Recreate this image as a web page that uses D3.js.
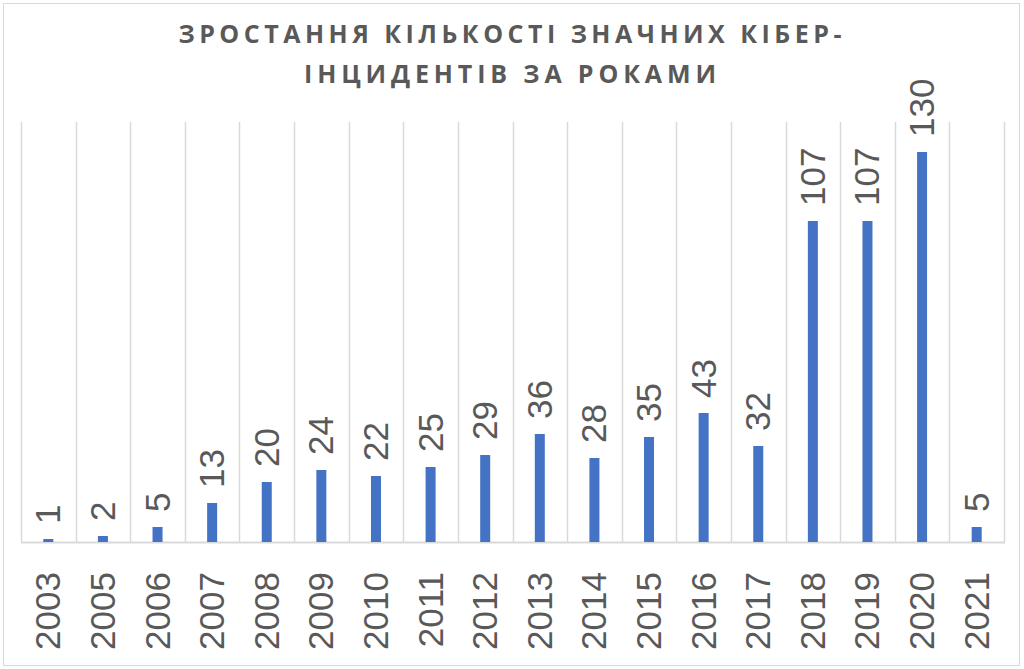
<!DOCTYPE html>
<html>
<head>
<meta charset="utf-8">
<script src="https://cdn.jsdelivr.net/npm/d3@7"></script>
<style>
  body { margin: 0; background: #fff; }
  svg { display: block; }
</style>
</head>
<body>
<div class="visual"></div>
<script>
const years = ["2003", "2005", "2006", "2007", "2008", "2009", "2010", "2011", "2012",
  "2013", "2014", "2015", "2016", "2017", "2018", "2019", "2020", "2021"];
const incidents = [1, 2, 5, 13, 20, 24, 22, 25, 29, 36, 28, 35, 43, 32, 107, 107, 130, 5];
const titleLines = ["ЗРОСТАННЯ КІЛЬКОСТІ ЗНАЧНИХ КІБЕР-", "ІНЦИДЕНТІВ ЗА РОКАМИ"];

const width = 1024;
const height = 669;
const plot = { left: 21, right: 1004, top: 122, bottom: 542 };

const svg = d3
  .select(".visual")
  .append("svg")
  .attr("width", width)
  .attr("height", height);

// chart border
svg.append("rect")
  .attr("x", 3.5).attr("y", 3.5)
  .attr("width", 1016).attr("height", 662)
  .attr("fill", "white")
  .attr("stroke", "#d9d9d9");

const x = d3.scaleBand().domain(years).range([plot.left, plot.right]).padding(0);
const y = d3.scaleLinear().domain([0, 140]).range([plot.bottom, plot.top]);

// vertical gridlines at category boundaries
const bounds = years.map((d) => x(d)).concat([plot.right]);
svg.selectAll("line.grid")
  .data(bounds)
  .enter()
  .append("line")
  .attr("class", "grid")
  .attr("x1", (d) => Math.round(d) + 0.5)
  .attr("x2", (d) => Math.round(d) + 0.5)
  .attr("y1", plot.top)
  .attr("y2", plot.bottom)
  .attr("stroke", "#d9d9d9")
  .attr("stroke-width", 1.5);

// baseline
svg.append("line")
  .attr("x1", plot.left).attr("x2", plot.right + 1)
  .attr("y1", plot.bottom + 0.5).attr("y2", plot.bottom + 0.5)
  .attr("stroke", "#d9d9d9")
  .attr("stroke-width", 2);

const barW = 10;
svg.selectAll("rect.bar")
  .data(incidents)
  .enter()
  .append("rect")
  .attr("class", "bar")
  .attr("x", (d, i) => x(years[i]) + x.bandwidth() / 2 - barW / 2)
  .attr("y", (d) => y(d))
  .attr("width", barW)
  .attr("height", (d) => y(0) - y(d))
  .attr("fill", "#4472c4");

// value labels, rotated
svg.selectAll("text.value")
  .data(incidents)
  .enter()
  .append("text")
  .attr("class", "value")
  .attr("transform", (d, i) =>
    `translate(${x(years[i]) + x.bandwidth() / 2 + 12},${y(d) - 15}) rotate(-90)`)
  .attr("font-family", "Liberation Sans, Arial, sans-serif")
  .attr("font-size", 35)
  .attr("fill", "#595959")
  .text((d) => d);

// year labels, rotated
svg.selectAll("text.year")
  .data(years)
  .enter()
  .append("text")
  .attr("class", "year")
  .attr("transform", (d) =>
    `translate(${x(d) + x.bandwidth() / 2 + 12},572) rotate(-90)`)
  .attr("text-anchor", "end")
  .attr("font-family", "Liberation Sans, Arial, sans-serif")
  .attr("font-size", 35)
  .attr("fill", "#595959")
  .text((d) => d);

// title (letter-spaced, widths matched to the original)
const titleWidths = [663, 412];
svg.selectAll("text.title")
  .data(titleLines)
  .enter()
  .append("text")
  .attr("class", "title")
  .attr("x", (d, i) => 510 - titleWidths[i] / 2)
  .attr("y", (d, i) => 43 + i * 40)
  .attr("textLength", (d, i) => titleWidths[i])
  .attr("lengthAdjust", "spacing")
  .attr("font-family", "Open Sans, sans-serif")
  .attr("font-weight", "bold")
  .attr("font-size", 25)
  .attr("fill", "#595959")
  .text((d) => d);
</script>
</body>
</html>
